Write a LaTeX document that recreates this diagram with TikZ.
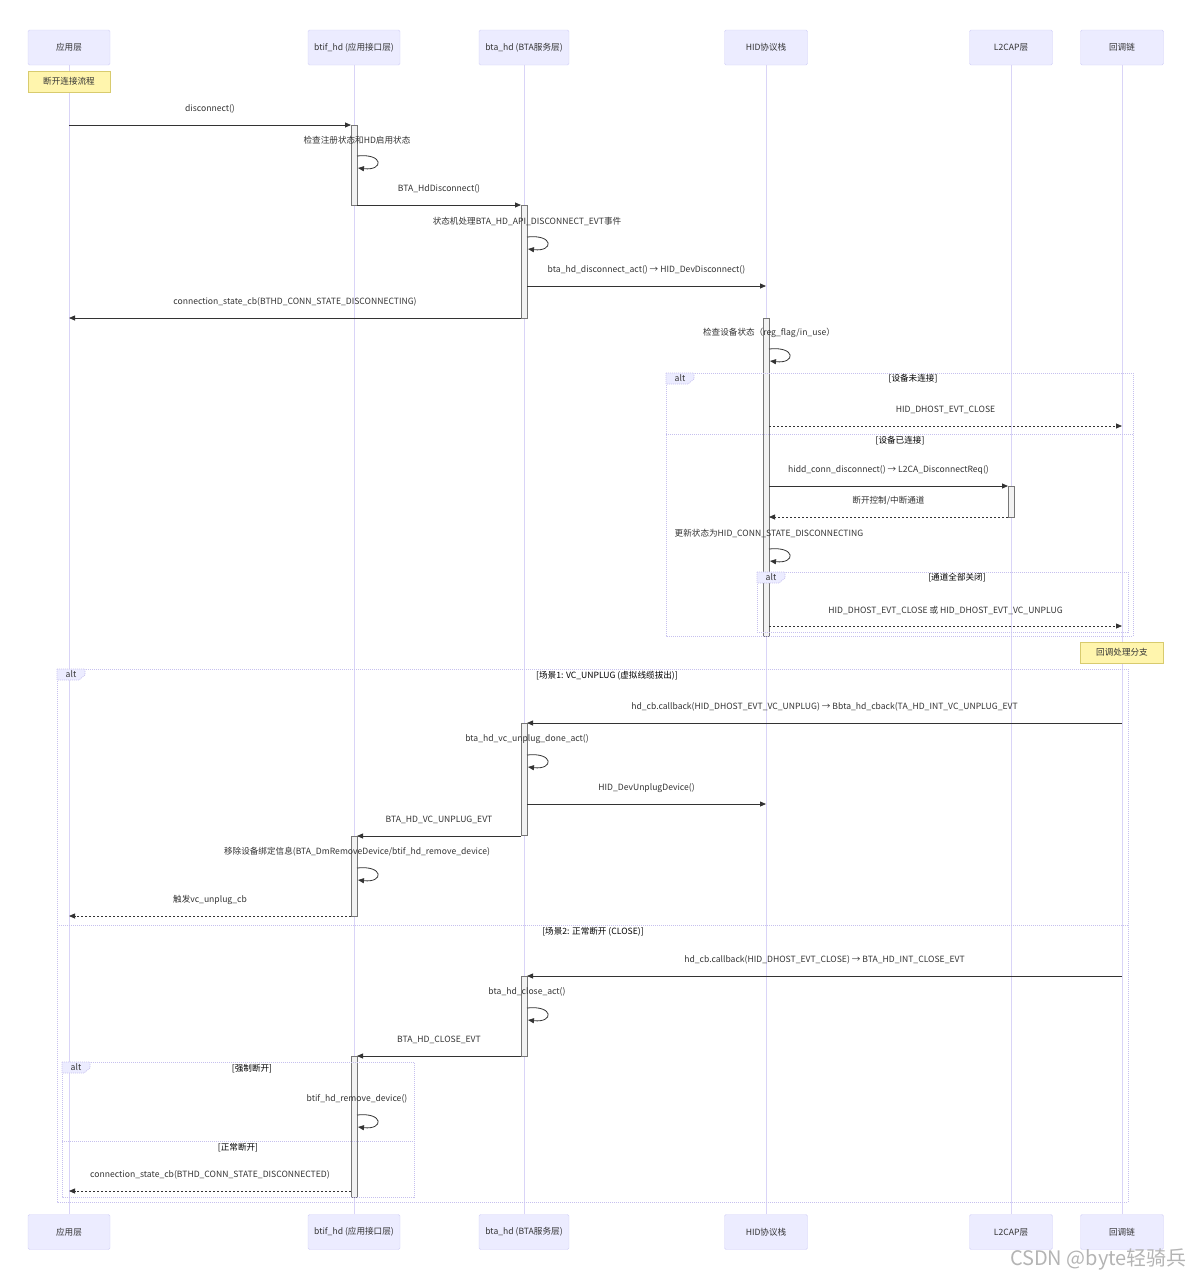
\documentclass[tikz,border=0pt]{standalone}
\usepackage{fontspec}
\setmainfont{Noto Sans CJK SC}
\usetikzlibrary{arrows.meta,calc}
\definecolor{ActFill}{HTML}{ECECFF}
\definecolor{ActLine}{HTML}{D2D0F7}
\definecolor{LifeLine}{HTML}{D9D4F7}
\definecolor{NoteFill}{HTML}{FFF5AD}
\definecolor{NoteLine}{HTML}{D8CB6E}
\definecolor{MsgInk}{HTML}{333333}
\definecolor{FrameLine}{HTML}{C6C0EE}
\definecolor{BarLine}{HTML}{777777}
\definecolor{MarkGray}{HTML}{B4B4B4}

% self message: lifeline node, y of loop start, label
\newcommand{\selfmsg}[3]{%
  \draw[msg] ([xshift=3pt]#1 |- 0,#2) .. controls ([xshift=30pt]#1 |- 0,#2-3) and ([xshift=30pt]#1 |- 0,#2+15) .. ([xshift=4pt]#1 |- 0,#2+12);
  \node[lbl] at ([xshift=3pt]#1 |- 0,#2-16) {#3};}
% activation bar
\newcommand{\actbar}[3]{\draw[actbox] ([xshift=-3pt]#1 |- 0,#2) rectangle ([xshift=3pt]#1 |- 0,#3);}
% alt frame with tab
\newcommand{\altframe}[4]{%
  \draw[frame] (#1,#2) rectangle (#3,#4);
  \filldraw[frame,fill=ActFill] (#1,#2) -- (#1+28,#2) -- (#1+28,#2+6) -- (#1+22,#2+11) -- (#1,#2+11) -- cycle;
  \node[lbl] at (#1+14,#2+5.5) {alt};}

\begin{document}
\begin{tikzpicture}[
  x=1pt,y=-1pt,
  lbl/.style={font=\fontsize{8.6}{10}\selectfont,text=MsgInk,inner sep=0pt},
  cond/.style={lbl,text=black},
  actor/.style={rectangle,rounded corners=1.5pt,draw=ActLine,fill=ActFill,minimum height=35pt,font=\fontsize{8.6}{10}\selectfont,text=MsgInk},
  note/.style={rectangle,draw=NoteLine,fill=NoteFill,minimum width=83pt,minimum height=21pt,font=\fontsize{8.6}{10}\selectfont,text=MsgInk},
  life/.style={draw=LifeLine,line width=1pt},
  actbox/.style={draw=BarLine,fill=white!95!black,line width=0.6pt},
  frame/.style={draw=FrameLine,line width=0.7pt,dash pattern=on 1pt off 1pt},
  msg/.style={draw=MsgInk,line width=0.8pt,-{Triangle[length=6pt,width=5pt]}},
  reply/.style={msg,dash pattern=on 2pt off 2pt},
  mlbl/.style={lbl,midway,yshift=16pt}
]
\useasboundingbox (0,0) rectangle (1191,1280);

% participants
\node[actor,minimum width=82pt] (app) at (69,47.5) {应用层};
\node[actor,minimum width=92pt] (btif) at (354,47.5) {btif\_hd (应用接口层)};
\node[actor,minimum width=90pt] (bta) at (524,47.5) {bta\_hd (BTA服务层)};
\node[actor,minimum width=83pt] (hid) at (766,47.5) {HID协议栈};
\node[actor,minimum width=83pt] (l2cap) at (1011,47.5) {L2CAP层};
\node[actor,minimum width=83pt] (cbk) at (1122,47.5) {回调链};
\node[actor,minimum width=82pt] (appB) at (69,1232) {应用层};
\node[actor,minimum width=92pt] (btifB) at (354,1232) {btif\_hd (应用接口层)};
\node[actor,minimum width=90pt] (btaB) at (524,1232) {bta\_hd (BTA服务层)};
\node[actor,minimum width=83pt] (hidB) at (766,1232) {HID协议栈};
\node[actor,minimum width=83pt] (l2capB) at (1011,1232) {L2CAP层};
\node[actor,minimum width=83pt] (cbkB) at (1122,1232) {回调链};
\draw[life] (app) -- (appB);
\draw[life] (btif) -- (btifB);
\draw[life] (bta) -- (btaB);
\draw[life] (hid) -- (hidB);
\draw[life] (l2cap) -- (l2capB);
\draw[life] (cbk) -- (cbkB);

% activations
\actbar{btif}{125}{205}
\actbar{bta}{205}{318}
\actbar{hid}{318}{636}
\actbar{l2cap}{486}{517}
\actbar{bta}{723}{835}
\actbar{btif}{836}{916}
\actbar{bta}{976}{1056}
\actbar{btif}{1056}{1197}

% frames
\altframe{666}{373}{1133}{636}
\node[cond] at (913,379) {[设备未连接]};
\draw[frame] (666,434) -- (1133,434);
\node[cond] at (900,441) {[设备已连接]};
\altframe{757}{572}{1128}{632}
\node[cond] at (957,578) {[通道全部关闭]};
\altframe{57}{669}{1128}{1202}
\node[cond] at (607,676) {[场景1: VC\_UNPLUG (虚拟线缆拔出)]};
\draw[frame] (57,925) -- (1128,925);
\node[cond] at (593,932) {[场景2: 正常断开 (CLOSE)]};
\altframe{62}{1062}{414}{1197}
\node[cond] at (252,1069) {[强制断开]};
\draw[frame] (62,1141) -- (414,1141);
\node[cond] at (238,1148) {[正常断开]};

% notes
\node[note,minimum width=82pt] (startnote) at (app |- 0,81.5) {断开连接流程};
\node[note] (cbnote) at (cbk |- 0,652.5) {回调处理分支};

% messages
\draw[msg] (app |- 0,125) -- node[mlbl] {disconnect()} ([xshift=-3pt]btif |- 0,125);
\selfmsg{btif}{156}{检查注册状态和HD启用状态}
\draw[msg] ([xshift=3pt]btif |- 0,205) -- node[mlbl] {BTA\_HdDisconnect()} ([xshift=-3pt]bta |- 0,205);
\selfmsg{bta}{237}{状态机处理BTA\_HD\_API\_DISCONNECT\_EVT事件}
\draw[msg] ([xshift=3pt]bta |- 0,286) -- node[mlbl] {bta\_hd\_disconnect\_act() → HID\_DevDisconnect()} (hid |- 0,286);
\draw[msg] ([xshift=-3pt]bta |- 0,318) -- node[mlbl] {connection\_state\_cb(BTHD\_CONN\_STATE\_DISCONNECTING)} (app |- 0,318);
\selfmsg{hid}{349}{检查设备状态（reg\_flag/in\_use）}
\draw[reply] ([xshift=3pt]hid |- 0,426) -- node[mlbl] {HID\_DHOST\_EVT\_CLOSE} (cbk |- 0,426);
\draw[msg] ([xshift=3pt]hid |- 0,486) -- node[mlbl] {hidd\_conn\_disconnect() → L2CA\_DisconnectReq()} ([xshift=-3pt]l2cap |- 0,486);
\draw[reply] ([xshift=-3pt]l2cap |- 0,517) -- node[mlbl] {断开控制/中断通道} ([xshift=3pt]hid |- 0,517);
\selfmsg{hid}{549}{更新状态为HID\_CONN\_STATE\_DISCONNECTING}
\draw[reply] ([xshift=3pt]hid |- 0,626) -- node[mlbl] {HID\_DHOST\_EVT\_CLOSE 或 HID\_DHOST\_EVT\_VC\_UNPLUG} (cbk |- 0,626);

\draw[msg] (cbk |- 0,723) -- node[mlbl] {hd\_cb.callback(HID\_DHOST\_EVT\_VC\_UNPLUG) → Bbta\_hd\_cback(TA\_HD\_INT\_VC\_UNPLUG\_EVT} ([xshift=3pt]bta |- 0,723);
\selfmsg{bta}{755}{bta\_hd\_vc\_unplug\_done\_act()}
\draw[msg] ([xshift=3pt]bta |- 0,804) -- node[mlbl] {HID\_DevUnplugDevice()} (hid |- 0,804);
\draw[msg] ([xshift=-3pt]bta |- 0,836) -- node[mlbl] {BTA\_HD\_VC\_UNPLUG\_EVT} ([xshift=3pt]btif |- 0,836);
\selfmsg{btif}{868}{移除设备绑定信息(BTA\_DmRemoveDevice/btif\_hd\_remove\_device)}
\draw[reply] ([xshift=-3pt]btif |- 0,916) -- node[mlbl] {触发vc\_unplug\_cb} (app |- 0,916);

\draw[msg] (cbk |- 0,976) -- node[mlbl] {hd\_cb.callback(HID\_DHOST\_EVT\_CLOSE) → BTA\_HD\_INT\_CLOSE\_EVT} ([xshift=3pt]bta |- 0,976);
\selfmsg{bta}{1008}{bta\_hd\_close\_act()}
\draw[msg] ([xshift=-3pt]bta |- 0,1056) -- node[mlbl] {BTA\_HD\_CLOSE\_EVT} ([xshift=3pt]btif |- 0,1056);
\selfmsg{btif}{1115}{btif\_hd\_remove\_device()}
\draw[reply] ([xshift=-3pt]btif |- 0,1191) -- node[mlbl] {connection\_state\_cb(BTHD\_CONN\_STATE\_DISCONNECTED)} (app |- 0,1191);

% watermark
\node[anchor=south east,inner sep=0pt,text=MarkGray,font=\fontsize{20}{22}\selectfont] (mark) at (1187,1270) {CSDN @byte轻骑兵};
\end{tikzpicture}
\end{document}
